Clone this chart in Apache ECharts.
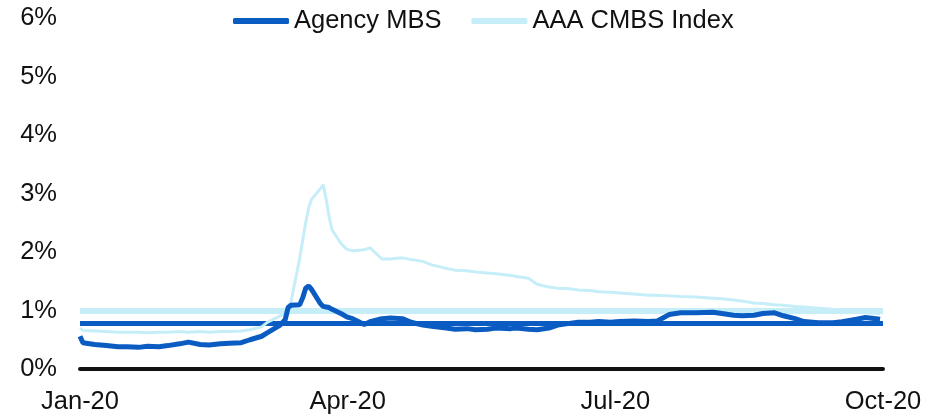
<!DOCTYPE html>
<html>
<head>
<meta charset="utf-8">
<script src="https://cdn.jsdelivr.net/npm/echarts@6/dist/echarts.min.js"></script>
<style>
  html, body { margin: 0; padding: 0; background: #fff; }
  #chart { width: 945px; height: 415px; }
</style>
</head>
<body>
<div id="chart"></div>
<script>
// Observation dates (2020)
const dates = [
  '2020-01-01','2020-01-02','2020-01-06','2020-01-10','2020-01-14','2020-01-17','2020-01-21','2020-01-24',
  '2020-01-28','2020-01-31','2020-02-04','2020-02-07','2020-02-11','2020-02-14','2020-02-18','2020-02-21',
  '2020-02-25','2020-02-28','2020-03-03','2020-03-05','2020-03-09','2020-03-11','2020-03-12','2020-03-13',
  '2020-03-16','2020-03-17','2020-03-18','2020-03-19','2020-03-20','2020-03-23','2020-03-24','2020-03-25',
  '2020-03-26','2020-03-27','2020-03-30','2020-04-01','2020-04-03','2020-04-07','2020-04-09','2020-04-13',
  '2020-04-16','2020-04-20','2020-04-23','2020-04-27','2020-04-30','2020-05-05','2020-05-08','2020-05-12',
  '2020-05-15','2020-05-19','2020-05-22','2020-05-27','2020-05-29','2020-06-02','2020-06-05','2020-06-09',
  '2020-06-12','2020-06-16','2020-06-19','2020-06-23','2020-06-26','2020-06-30','2020-07-03','2020-07-08',
  '2020-07-13','2020-07-16','2020-07-20','2020-07-24','2020-07-29','2020-08-04','2020-08-07','2020-08-11',
  '2020-08-14','2020-08-18','2020-08-21','2020-08-25','2020-08-28','2020-09-01','2020-09-04','2020-09-09',
  '2020-09-14','2020-09-17','2020-09-22','2020-09-25','2020-09-30'
];

// Agency MBS spread (%)
const agencyMbs = [
  0.56,0.45,0.42,0.40,0.38,0.38,0.37,0.39,
  0.38,0.40,0.43,0.46,0.42,0.41,0.43,0.44,
  0.45,0.50,0.56,0.62,0.74,0.84,1.05,1.09,
  1.10,1.22,1.38,1.42,1.36,1.12,1.07,1.06,
  1.05,1.02,0.95,0.89,0.86,0.76,0.81,0.86,
  0.87,0.86,0.80,0.75,0.73,0.70,0.68,0.69,
  0.67,0.68,0.70,0.69,0.70,0.68,0.67,0.70,
  0.75,0.78,0.80,0.80,0.81,0.80,0.81,0.82,
  0.81,0.82,0.93,0.96,0.96,0.97,0.95,0.92,
  0.91,0.92,0.95,0.96,0.91,0.86,0.81,0.79,
  0.79,0.81,0.85,0.88,0.85
];

// AAA CMBS Index spread (%)
const aaaCmbs = [
  0.70,0.66,0.65,0.64,0.63,0.63,0.63,0.62,
  0.63,0.63,0.64,0.63,0.64,0.63,0.64,0.64,
  0.65,0.67,0.72,0.80,0.90,0.96,1.00,1.15,
  1.90,2.20,2.50,2.75,2.90,3.08,3.15,2.90,
  2.60,2.38,2.15,2.05,2.02,2.04,2.07,1.88,
  1.88,1.90,1.87,1.84,1.78,1.72,1.69,1.68,
  1.66,1.64,1.63,1.60,1.58,1.55,1.45,1.40,
  1.38,1.37,1.35,1.34,1.32,1.31,1.30,1.28,
  1.26,1.26,1.25,1.24,1.23,1.21,1.20,1.18,
  1.16,1.13,1.12,1.10,1.09,1.07,1.06,1.04,
  1.02,1.00,0.98,0.96,0.95
];

// Reference levels (%)
const mbsLevel = 0.79;
const cmbsLevel = 0.99;

// Axis labels
const xTickLabels = ['Jan-20', 'Apr-20', 'Jul-20', 'Oct-20'];
const xStart = '2020-01-01';
const xEnd = '2020-10-01';

const DAY = 86400000;
const t0 = Date.parse(xStart);
const dayOf = d => Math.round((Date.parse(d) - t0) / DAY);
const spanDays = dayOf(xEnd);
const step = spanDays / (xTickLabels.length - 1);

const mbsData = dates.map((d, i) => [dayOf(d), agencyMbs[i]]);
const cmbsData = dates.map((d, i) => [dayOf(d), aaaCmbs[i]]);

const DARK = '#0b5cc2';
const LIGHT = '#c6eef8';
const FONT = 'Liberation Sans, Arial, sans-serif';
const FS = 25.5;

const chart = echarts.init(document.getElementById('chart'), null, { renderer: 'canvas' });
chart.setOption({
  animation: false,
  backgroundColor: '#ffffff',
  textStyle: { fontFamily: FONT },
  grid: { left: 80, right: 62, top: 18, bottom: 46, containLabel: false },
  legend: {
    left: 228,
    top: 3,
    icon: 'roundRect',
    itemWidth: 56,
    itemHeight: 6,
    itemGap: 30,
    textStyle: { fontSize: FS, color: '#111', fontFamily: FONT },
    data: ['Agency MBS', 'AAA CMBS Index']
  },
  xAxis: {
    type: 'value',
    min: 0,
    max: spanDays,
    interval: step,
    splitLine: { show: false },
    axisTick: { show: false },
    axisLine: { show: true, onZero: true, lineStyle: { color: '#111', width: 4 } },
    axisLabel: {
      fontSize: FS,
      color: '#111',
      margin: 20,
      fontFamily: FONT,
      formatter: v => xTickLabels[Math.round(v / step)] || ''
    }
  },
  yAxis: {
    type: 'value',
    min: 0,
    max: 6,
    interval: 1,
    splitLine: { show: false },
    axisTick: { show: false },
    axisLine: { show: false },
    axisLabel: {
      fontSize: FS,
      color: '#111',
      margin: 23,
      fontFamily: FONT,
      formatter: '{value}%'
    }
  },
  series: [
    {
      name: 'AAA CMBS Index',
      type: 'line',
      data: cmbsData,
      showSymbol: false,
      symbol: 'none',
      z: 3,
      lineStyle: { color: LIGHT, width: 3 },
      itemStyle: { color: LIGHT },
      markLine: {
        silent: true,
        symbol: 'none',
        label: { show: false },
        lineStyle: { color: LIGHT, width: 6, type: 'solid' },
        data: [{ yAxis: cmbsLevel }],
        z: 1
      }
    },
    {
      name: 'Agency MBS',
      type: 'line',
      data: mbsData,
      showSymbol: false,
      symbol: 'none',
      z: 4,
      lineStyle: { color: DARK, width: 5 },
      itemStyle: { color: DARK },
      markLine: {
        silent: true,
        symbol: 'none',
        label: { show: false },
        lineStyle: { color: DARK, width: 5, type: 'solid' },
        data: [{ yAxis: mbsLevel }],
        z: 2
      }
    }
  ]
});
</script>
</body>
</html>
